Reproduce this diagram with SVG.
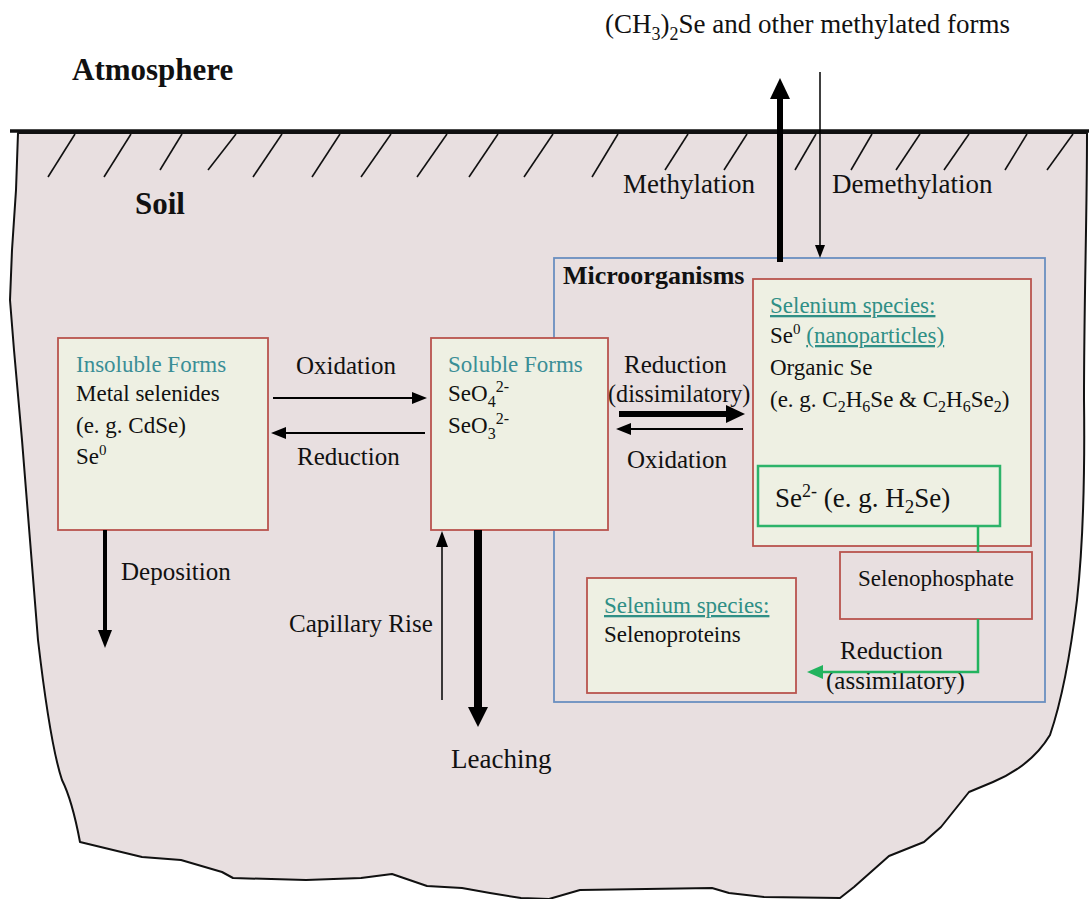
<svg xmlns="http://www.w3.org/2000/svg" width="1089" height="899" viewBox="0 0 1089 899">
<style>
text{font-family:"Liberation Serif","Times New Roman",serif;fill:#111}
.lbl{font-size:25px}
.bt{font-size:23px}
.box{fill:#eef0e3;stroke:#b9544e;stroke-width:1.8}
.teal{fill:#3a8e96}
.ul{fill:#2f8f86;text-decoration:underline}
.hatch{stroke:#111;stroke-width:1.6}
.blk{fill:#000}
</style>
<rect width="1089" height="899" fill="#fff"/>
<g id="soil">
<path d="M18,133 L1087,133 C1087,220 1084,300 1084,400 C1085,480 1083,545 1077,600 C1071,650 1062,700 1050,735 C1035,760 1012,774 993,782 L969,792 L941,827 L924,842 L889,856 L854,887 L840,898 L764,897 L729,893 L712,888 L580,890 L549,899 L521,898 L490,893 L462,888 L427,886 L392,874 L361,878 L306,880 L233,878 L222,872 L181,860 L142,857 L80,842 C74,810 68,792 62,780 C52,750 45,700 38,640 L30,540 L22,440 L14,350 L10,300 L12,250 L16,190 Z" fill="#e8dfe0" stroke="#111" stroke-width="2" stroke-linejoin="round"/>
<line x1="10" y1="131" x2="1089" y2="131" stroke="#111" stroke-width="3.5"/>
<g class="hatch">
<line x1="48" y1="177" x2="75" y2="134"/>
<line x1="104" y1="177" x2="131" y2="134"/>
<line x1="160" y1="170" x2="182" y2="134"/>
<line x1="208" y1="170" x2="236" y2="134"/>
<line x1="253" y1="177" x2="282" y2="134"/>
<line x1="312" y1="177" x2="340" y2="134"/>
<line x1="361" y1="177" x2="391" y2="134"/>
<line x1="417" y1="177" x2="447" y2="134"/>
<line x1="469" y1="177" x2="498" y2="134"/>
<line x1="524" y1="177" x2="553" y2="134"/>
<line x1="592" y1="177" x2="618" y2="134"/>
<line x1="665" y1="170" x2="688" y2="134"/>
<line x1="724" y1="170" x2="747" y2="134"/>
<line x1="795" y1="170" x2="816" y2="134"/>
<line x1="851" y1="170" x2="872" y2="134"/>
<line x1="896" y1="170" x2="920" y2="134"/>
<line x1="944" y1="170" x2="969" y2="134"/>
<line x1="1005" y1="170" x2="1027" y2="134"/>
<line x1="1047" y1="170" x2="1073" y2="134"/>
</g>
</g>
<g id="labels">
<text x="605" y="33" style="font-size:27px">(CH<tspan dy="7" font-size="18">3</tspan><tspan dy="-7">)</tspan><tspan dy="7" font-size="18">2</tspan><tspan dy="-7">Se and other methylated forms</tspan></text>
<text x="72" y="80" style="font-size:31px;font-weight:bold">Atmosphere</text>
<text x="135" y="214" style="font-size:31px;font-weight:bold">Soil</text>
<text x="623" y="193" style="font-size:27px">Methylation</text>
<text x="832" y="193" style="font-size:27px">Demethylation</text>
<text x="296" y="374" class="lbl">Oxidation</text>
<text x="297" y="465" class="lbl">Reduction</text>
<text x="624" y="373" class="lbl">Reduction</text>
<text x="608" y="402" style="font-size:24.2px">(dissimilatory)</text>
<text x="627" y="468" class="lbl">Oxidation</text>
<text x="121" y="580" class="lbl">Deposition</text>
<text x="289" y="632" class="lbl">Capillary Rise</text>
<text x="451" y="768" style="font-size:27px">Leaching</text>
<text x="840" y="659" class="lbl">Reduction</text>
<text x="826" y="689" class="lbl">(assimilatory)</text>
</g>
<g id="microorganisms">
<rect x="554" y="258" width="491" height="444" fill="none" stroke="#6a8fc0" stroke-width="1.8"/>
<text x="563" y="284" style="font-size:26px;font-weight:bold">Microorganisms</text>
</g>
<g id="insoluble">
<rect class="box" x="58" y="338" width="210" height="192"/>
<text x="76" y="372" class="bt teal">Insoluble Forms</text>
<text x="76" y="401" class="bt">Metal selenides</text>
<text x="76" y="433" class="bt">(e. g. CdSe)</text>
<text x="76" y="464" class="bt">Se<tspan dy="-9" font-size="15">0</tspan></text>
</g>
<g id="soluble">
<rect class="box" x="431" y="338" width="177" height="192"/>
<text x="448" y="372" class="bt teal">Soluble Forms</text>
<text x="448" y="401" class="bt">SeO<tspan dy="6" font-size="16">4</tspan><tspan dy="-15" font-size="16">2-</tspan></text>
<text x="448" y="433" class="bt">SeO<tspan dy="6" font-size="16">3</tspan><tspan dy="-15" font-size="16">2-</tspan></text>
</g>
<g id="species">
<rect class="box" x="753" y="279" width="278" height="267"/>
<text x="770" y="313" class="bt ul">Selenium species:</text>
<text x="770" y="343" class="bt">Se<tspan dy="-9" font-size="15">0</tspan><tspan dy="9"> </tspan><tspan class="ul">(nanoparticles)</tspan></text>
<text x="770" y="375" class="bt">Organic Se</text>
<text x="770" y="407" class="bt">(e. g. C<tspan dy="5" font-size="16">2</tspan><tspan dy="-5">H</tspan><tspan dy="5" font-size="16">6</tspan><tspan dy="-5">Se &amp; C</tspan><tspan dy="5" font-size="16">2</tspan><tspan dy="-5">H</tspan><tspan dy="5" font-size="16">6</tspan><tspan dy="-5">Se</tspan><tspan dy="5" font-size="16">2</tspan><tspan dy="-5">)</tspan></text>
</g>
<g id="selenide">
<rect x="758" y="466" width="242" height="60" fill="#eef0e3" stroke="#2db36a" stroke-width="2.5"/>
<text x="775" y="507" style="font-size:27px">Se<tspan dy="-10" font-size="18">2-</tspan><tspan dy="10"> (e. g. H</tspan><tspan dy="6" font-size="19">2</tspan><tspan dy="-6">Se)</tspan></text>
</g>
<g id="selenophosphate">
<rect x="840" y="552" width="192" height="67" fill="#e8dfe0" stroke="#b9544e" stroke-width="1.8"/>
<text x="858" y="586" class="bt">Selenophosphate</text>
</g>
<g id="selenoproteins">
<rect class="box" x="587" y="578" width="209" height="115"/>
<text x="604" y="613" class="bt ul">Selenium species:</text>
<text x="604" y="642" class="bt">Selenoproteins</text>
</g>
<g id="connectors">
<line x1="780" y1="262" x2="780" y2="95" stroke="#000" stroke-width="6"/>
<polygon class="blk" points="780,78 770,99 790,99"/>
<line x1="820" y1="72" x2="820" y2="248" stroke="#000" stroke-width="1.5"/>
<polygon class="blk" points="820,258 815,245 825,245"/>
<line x1="273" y1="398" x2="415" y2="398" stroke="#000" stroke-width="2"/>
<polygon class="blk" points="427,398 412,392 412,404"/>
<line x1="425" y1="433" x2="284" y2="433" stroke="#000" stroke-width="2"/>
<polygon class="blk" points="271,433 286,427 286,439"/>
<line x1="619" y1="414" x2="728" y2="414" stroke="#000" stroke-width="6"/>
<polygon class="blk" points="745,414 726,405 726,423"/>
<line x1="743" y1="429" x2="630" y2="429" stroke="#000" stroke-width="2"/>
<polygon class="blk" points="616,429 631,423 631,435"/>
<line x1="105" y1="530" x2="105" y2="632" stroke="#000" stroke-width="4"/>
<polygon class="blk" points="105,648 98,630 112,630"/>
<line x1="442" y1="700" x2="442" y2="545" stroke="#000" stroke-width="1.5"/>
<polygon class="blk" points="442,531 436,547 448,547"/>
<line x1="478" y1="530" x2="478" y2="709" stroke="#000" stroke-width="8"/>
<polygon class="blk" points="478,727 468,707 488,707"/>
<line x1="978" y1="526" x2="978" y2="552" stroke="#22b35e" stroke-width="2.5"/>
<polyline points="978,619 978,672 822,672" fill="none" stroke="#22b35e" stroke-width="2.5"/>
<polygon points="807,672 823,665 823,679" fill="#22b35e"/>
</g>
</svg>
